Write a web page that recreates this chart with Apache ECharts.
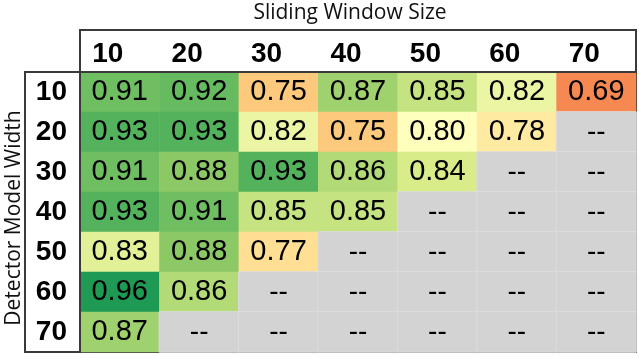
<!DOCTYPE html>
<html>
<head>
<meta charset="utf-8">
<script src="https://cdn.jsdelivr.net/npm/echarts@6/dist/echarts.min.js"></script>
<style>html,body{margin:0;padding:0;background:#fff}#c{width:639px;height:359px}</style>
</head>
<body>
<div id="c"></div>
<script>
const windowSizes = ['10', '20', '30', '40', '50', '60', '70'];
const modelWidths = ['10', '20', '30', '40', '50', '60', '70'];
const row10 = [0.91, 0.92, 0.75, 0.87, 0.85, 0.82, 0.69];
const row20 = [0.93, 0.93, 0.82, 0.75, 0.80, 0.78, null];
const row30 = [0.91, 0.88, 0.93, 0.86, 0.84, null, null];
const row40 = [0.93, 0.91, 0.85, 0.85, null, null, null];
const row50 = [0.83, 0.88, 0.77, null, null, null, null];
const row60 = [0.96, 0.86, null, null, null, null, null];
const row70 = [0.87, null, null, null, null, null, null];
const rows = [row10, row20, row30, row40, row50, row60, row70];

const valued = [], missing = [];
rows.forEach((r, yi) => r.forEach((v, xi) => {
  if (v === null) missing.push([xi, yi, 0]);
  else valued.push([xi, yi, v]);
}));

const chart = echarts.init(document.getElementById('c'), null, {renderer: 'canvas'});
const lineC = '#3a3a3a';
chart.setOption({
  animation: false,
  grid: {left: 80, right: 3, top: 72, bottom: 7, outerBoundsMode: 'none', containLabel: false,
         show: true, borderColor: lineC, borderWidth: 2, backgroundColor: 'transparent'},
  xAxis: {
    type: 'category', data: windowSizes, position: 'top',
    name: 'Sliding Window Size', nameLocation: 'middle', nameGap: 48,
    nameTextStyle: {fontFamily: 'Open Sans', fontSize: 21, color: '#111', padding: [0, 16, 0, 0]},
    axisLine: {show: false}, axisTick: {show: false}, splitLine: {show: false},
    axisLabel: {
      margin: 4,
      formatter: v => '{a|' + v + '}',
      rich: {a: {padding: [0, 24, 0, 0], fontFamily: 'Liberation Sans', fontWeight: 'bold', fontSize: 28, color: '#000'}}
    }
  },
  yAxis: {
    type: 'category', data: modelWidths, inverse: true,
    name: 'Detector Model Width', nameLocation: 'middle', nameGap: 55, nameRotate: 90,
    nameTextStyle: {fontFamily: 'Open Sans', fontSize: 21, color: '#111', padding: [0, 12, 0, 0]},
    axisLine: {show: false}, axisTick: {show: false}, splitLine: {show: false},
    axisLabel: {margin: 13, fontFamily: 'Liberation Sans', fontWeight: 'bold', fontSize: 28, color: '#000'}
  },
  visualMap: {
    show: false, type: 'continuous', seriesIndex: 0, min: 0.68, max: 0.96, dimension: 2,
    inRange: {color: ['#f47f4b', '#f9a865', '#fed585', '#fefebd', '#d8ec8a', '#8cc966', '#66ba5f', '#1f9a54']}
  },
  graphic: [
    {type: 'rect', shape: {x: 80, y: 30, width: 556, height: 42}, style: {fill: 'none', stroke: lineC, lineWidth: 2}, z: 100},
    {type: 'rect', shape: {x: 25, y: 72, width: 55, height: 280}, style: {fill: 'none', stroke: lineC, lineWidth: 2}, z: 100}
  ],
  series: [
    {
      type: 'heatmap', data: valued,
      label: {show: true, formatter: p => p.value[2].toFixed(2), fontFamily: 'Liberation Sans', fontSize: 29, color: '#000'},
      itemStyle: {borderWidth: 0}
    },
    {
      type: 'heatmap', data: missing,
      label: {show: true, formatter: () => '--', fontFamily: 'Liberation Sans', fontSize: 28, color: '#000'},
      itemStyle: {color: '#d3d3d3', borderColor: '#dcdcdc', borderWidth: 1}
    }
  ]
});
</script>
</body>
</html>
